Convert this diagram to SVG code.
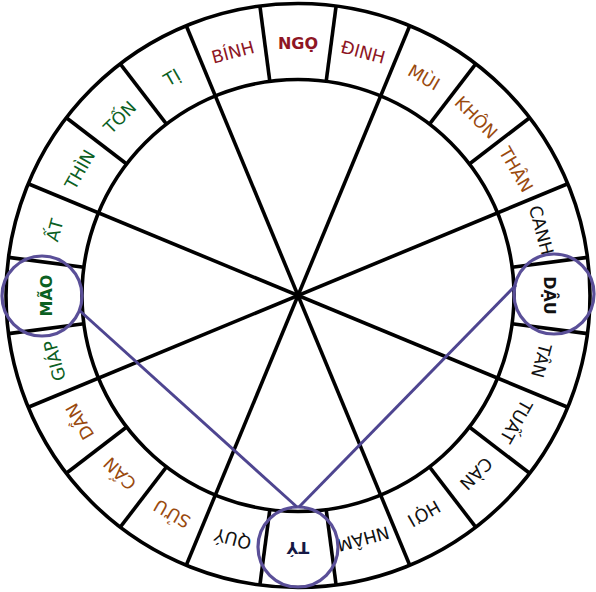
<svg xmlns="http://www.w3.org/2000/svg" width="596" height="592" viewBox="0 0 596 592">
<style>
.ring{fill:none;stroke:#000;stroke-width:3.6}
.div{stroke:#000;stroke-width:3.6}
text{font-family:"DejaVu Sans","Liberation Sans",sans-serif;font-size:17.5px;text-anchor:middle}
.b{font-weight:bold;font-size:16px}
.red{fill:#8e1624}
.org{fill:#9a4a0e}
.grn{fill:#0b6022}
.blk{fill:#111}
.navy{fill:#161945}
.hl{fill:none;stroke:#5a4f98;stroke-width:3.2}
.conn{stroke:#4e4590;stroke-width:3;fill:none}
</style>
<rect width="596" height="592" fill="#fff"/>
<g transform="translate(298,295.5)">
<g id="frame">
<circle class="ring" r="292"/>
<circle class="ring" r="216"/>
<g class="div">
<line x1="-292" y1="0" x2="292" y2="0" transform="rotate(22.5)"/>
<line x1="-292" y1="0" x2="292" y2="0" transform="rotate(67.5)"/>
<line x1="-292" y1="0" x2="292" y2="0" transform="rotate(112.5)"/>
<line x1="-292" y1="0" x2="292" y2="0" transform="rotate(157.5)"/>
<line x1="216" y1="0" x2="292" y2="0" transform="rotate(7.5)"/>
<line x1="216" y1="0" x2="292" y2="0" transform="rotate(37.5)"/>
<line x1="216" y1="0" x2="292" y2="0" transform="rotate(52.5)"/>
<line x1="216" y1="0" x2="292" y2="0" transform="rotate(82.5)"/>
<line x1="216" y1="0" x2="292" y2="0" transform="rotate(97.5)"/>
<line x1="216" y1="0" x2="292" y2="0" transform="rotate(127.5)"/>
<line x1="216" y1="0" x2="292" y2="0" transform="rotate(142.5)"/>
<line x1="216" y1="0" x2="292" y2="0" transform="rotate(172.5)"/>
<line x1="216" y1="0" x2="292" y2="0" transform="rotate(187.5)"/>
<line x1="216" y1="0" x2="292" y2="0" transform="rotate(217.5)"/>
<line x1="216" y1="0" x2="292" y2="0" transform="rotate(232.5)"/>
<line x1="216" y1="0" x2="292" y2="0" transform="rotate(262.5)"/>
<line x1="216" y1="0" x2="292" y2="0" transform="rotate(277.5)"/>
<line x1="216" y1="0" x2="292" y2="0" transform="rotate(307.5)"/>
<line x1="216" y1="0" x2="292" y2="0" transform="rotate(322.5)"/>
<line x1="216" y1="0" x2="292" y2="0" transform="rotate(352.5)"/>
</g>
</g>
<g id="ngo"><text class="b red" transform="rotate(0) translate(0,-252)" dy=".36em">NGỌ</text></g>
<g id="dinh"><text class="red" transform="rotate(15) translate(0,-252)" dy=".36em">ĐINH</text></g>
<g id="mui"><text class="org" transform="rotate(30) translate(0,-252)" dy=".36em">MÙI</text></g>
<g id="khon"><text class="org" transform="rotate(45) translate(0,-252)" dy=".36em">KHÔN</text></g>
<g id="than"><text class="org" transform="rotate(60) translate(0,-252)" dy=".36em">THÂN</text></g>
<g id="canh"><text class="blk" transform="rotate(75) translate(0,-252)" dy=".36em">CANH</text></g>
<g id="dau"><text class="b blk" transform="rotate(90) translate(0,-252)" dy=".36em">DẬU</text></g>
<g id="tan"><text class="blk" transform="rotate(105) translate(0,-252)" dy=".36em">TÂN</text></g>
<g id="tuat"><text class="blk" transform="rotate(120) translate(0,-252)" dy=".36em">TUẤT</text></g>
<g id="can-kien"><text class="blk" transform="rotate(135) translate(0,-252)" dy=".36em">CÀN</text></g>
<g id="hoi"><text class="blk" transform="rotate(150) translate(0,-252)" dy=".36em">HỢI</text></g>
<g id="nham"><text class="blk" transform="rotate(165) translate(0,-252)" dy=".36em">NHÂM</text></g>
<g id="ty-chuot"><text class="b navy" transform="rotate(180) translate(0,-252)" dy=".36em">TÝ</text></g>
<g id="quy"><text class="blk" transform="rotate(195) translate(0,-252)" dy=".36em">QUÝ</text></g>
<g id="suu"><text class="org" transform="rotate(210) translate(0,-252)" dy=".36em">SỬU</text></g>
<g id="can-son"><text class="org" transform="rotate(225) translate(0,-252)" dy=".36em">CẤN</text></g>
<g id="dan"><text class="org" transform="rotate(240) translate(0,-252)" dy=".36em">DẦN</text></g>
<g id="giap"><text class="grn" transform="rotate(255) translate(0,-252)" dy=".36em">GIÁP</text></g>
<g id="mao"><text class="b grn" transform="rotate(270) translate(0,-252)" dy=".36em">MÃO</text></g>
<g id="at"><text class="grn" transform="rotate(285) translate(0,-252)" dy=".36em">ẤT</text></g>
<g id="thin"><text class="grn" transform="rotate(300) translate(0,-252)" dy=".36em">THÌN</text></g>
<g id="ton"><text class="grn" transform="rotate(315) translate(0,-252)" dy=".36em">TỐN</text></g>
<g id="ti"><text class="grn" transform="rotate(330) translate(0,-252)" dy=".36em">TỊ</text></g>
<g id="binh"><text class="red" transform="rotate(345) translate(0,-252)" dy=".36em">BÍNH</text></g>
</g>
<g id="highlight-mao"><circle class="hl" cx="42" cy="296" r="40"/></g>
<g id="highlight-dau"><circle class="hl" cx="554" cy="294" r="40"/></g>
<g id="highlight-ty"><circle class="hl" cx="298" cy="547" r="40"/></g>
<g id="connectors">
<line class="conn" x1="80" y1="311" x2="297" y2="507"/>
<line class="conn" x1="516" y1="285" x2="299" y2="507"/>
</g>
</svg>
